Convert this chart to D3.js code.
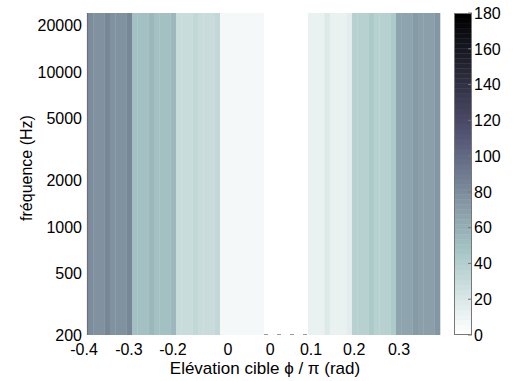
<!DOCTYPE html>
<html><head><meta charset="utf-8">
<script src="https://cdn.jsdelivr.net/npm/d3@7"></script>
<style>body{margin:0;background:#fff}svg text{font-family:"Liberation Sans",Arial,Helvetica,sans-serif;fill:#000}</style>
</head><body>
<svg id="c" width="513" height="381"></svg>
<script>
// ---- data ----
const bandStarts = [-0.4, -0.3, -0.2, -0.1, 0, 0.1, 0.2, 0.3];
const subStep = 0.0125;
const band1 = [81, 77, 77, 82, 77, 77, 77, 82];
const band2 = [49, 49, 49, 55, 50, 50, 50, 56];
const band3 = [29, 29, 29, 33, 29, 29, 29, 33];
const band4 = [6, 6, 6, 6, 6, 6, 6, 6];
const band5 = [0, 0, 0, 0, 0, 0, 0, 0];
const band6 = [14, 14, 14, 17, 14, 14, 14, 16];
const band7 = [38, 38, 38, 43, 38, 38, 38, 43];
const band8 = [67, 67, 67, 73, 68, 68, 68, 74];
const bands = [band1, band2, band3, band4, band5, band6, band7, band8];
const freqRange = [200, 24000];
const yTicks = [200, 500, 1000, 2000, 5000, 10000, 20000];
const xTickPos = [-0.409, -0.307, -0.207, -0.082, 0.014, 0.107, 0.205, 0.307];
const xTickLabels = ["-0.4", "-0.3", "-0.2", "0", "0", "0.1", "0.2", "0.3"];
const cbTicks = [0, 20, 40, 60, 80, 100, 120, 140, 160, 180];
const cLim = [0, 180];

// ---- colormap: flipud(bone(64)) ----
function bone(m) {
  const n = Math.floor(3 / 8 * m), out = [];
  for (let i = 0; i < m; i++) {
    const g = i / (m - 1);
    const r = i < n ? (i + 1) / n : 1;
    const gg = i < n ? 0 : (i < 2 * n ? (i - n + 1) / n : 1);
    const b = i < 2 * n ? 0 : (i - 2 * n + 1) / (m - 2 * n);
    out.push([(7 * g + b) / 8, (7 * g + gg) / 8, (7 * g + r) / 8]);
  }
  return out;
}
const cmap = bone(64).reverse();
function color(v) {
  let idx = Math.floor((v - cLim[0]) / (cLim[1] - cLim[0]) * cmap.length);
  idx = Math.max(0, Math.min(cmap.length - 1, idx));
  const c = cmap[idx];
  return d3.rgb(c[0] * 255, c[1] * 255, c[2] * 255).toString();
}

// ---- layout ----
const L = 88, R = 440, T = 13, B = 335;
const svg = d3.select("#c");
const x = d3.scaleLinear().domain([-0.4, 0.4]).range([L, R]);
const y = d3.scaleLog().domain(freqRange).range([B, T]);

const cells = [];
bands.forEach((vals, i) => vals.forEach((v, j) => {
  const x0 = bandStarts[i] + j * subStep;
  cells.push({x0, x1: x0 + subStep, v});
}));

svg.append("g").selectAll("rect").data(cells).join("rect")
  .attr("x", d => x(d.x0))
  .attr("width", d => x(d.x1) - x(d.x0) + 0.3)
  .attr("y", y(freqRange[1]))
  .attr("height", y(freqRange[0]) - y(freqRange[1]))
  .attr("fill", d => color(d.v));

// bottom dashes visible over white band
svg.append("line")
  .attr("x1", x(0)).attr("x2", x(0.1))
  .attr("y1", B - 0.5).attr("y2", B - 0.5)
  .attr("stroke", "#9a9a9a").attr("stroke-width", 1)
  .attr("stroke-dasharray", "4,9");

// left axis line
svg.append("line").attr("x1", L - 0.5).attr("x2", L - 0.5)
  .attr("y1", T).attr("y2", B)
  .attr("stroke", "#6e6e78").attr("stroke-width", 1.2);

// y tick labels
svg.append("g").selectAll("text").data(yTicks).join("text")
  .attr("x", L - 6).attr("y", d => y(d)).attr("dy", "0.36em")
  .attr("text-anchor", "end").attr("font-size", 16)
  .text(d => d);

// x tick labels
svg.append("g").selectAll("text").data(xTickPos).join("text")
  .attr("x", d => x(d)).attr("y", 355)
  .attr("text-anchor", "middle").attr("font-size", 16)
  .text((d, i) => xTickLabels[i]);

// axis titles
svg.append("text").attr("x", 265).attr("y", 374)
  .attr("text-anchor", "middle").attr("font-size", 17)
  .text("Elévation cible ϕ / π (rad)");
svg.append("text")
  .attr("transform", "translate(32,168) rotate(-90)")
  .attr("text-anchor", "middle").attr("font-size", 16)
  .text("fréquence (Hz)");

// ---- colorbar ----
const CL = 454, CR = 472;
const cy = d3.scaleLinear().domain(cLim).range([B, T]);
const steps = cmap.map((c, i) => i);
svg.append("g").selectAll("rect").data(steps).join("rect")
  .attr("x", CL).attr("width", CR - CL)
  .attr("y", i => cy(cLim[0] + (i + 1) * (cLim[1] - cLim[0]) / cmap.length))
  .attr("height", (B - T) / cmap.length + 0.4)
  .attr("fill", i => color(cLim[0] + (i + 0.5) * (cLim[1] - cLim[0]) / cmap.length));
svg.append("rect").attr("x", CL + 0.5).attr("y", T + 0.5)
  .attr("width", CR - CL - 1).attr("height", B - T - 1)
  .attr("fill", "none").attr("stroke", "#777").attr("stroke-width", 1);
svg.append("g").selectAll("line").data(cbTicks).join("line")
  .attr("x1", CR - 4).attr("x2", CR).attr("y1", d => cy(d)).attr("y2", d => cy(d))
  .attr("stroke", "#777");
svg.append("g").selectAll("text").data(cbTicks).join("text")
  .attr("x", CR + 2).attr("y", d => cy(d)).attr("dy", "0.36em")
  .attr("font-size", 16).text(d => d);
</script>
</body></html>
